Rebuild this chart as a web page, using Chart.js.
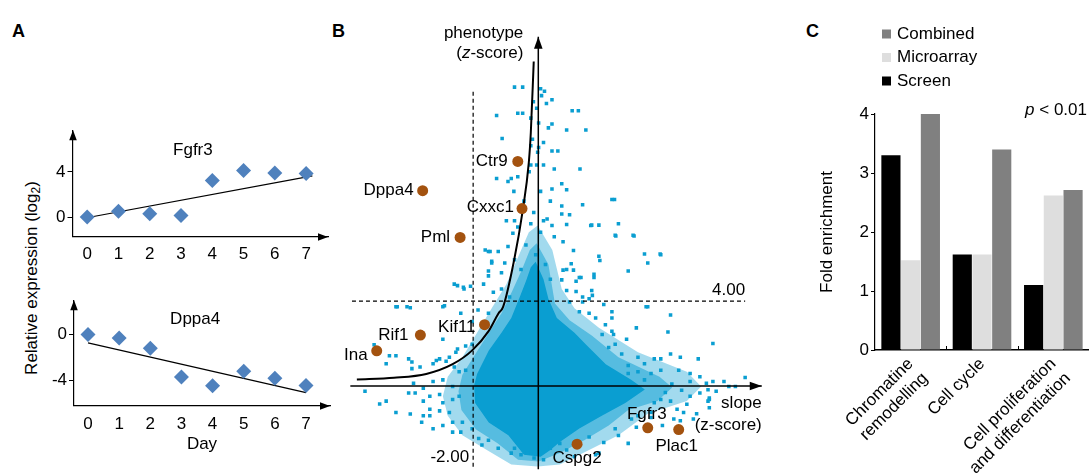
<!DOCTYPE html>
<html>
<head>
<meta charset="utf-8">
<script src="https://cdn.jsdelivr.net/npm/chart.js@4.4.1/dist/chart.umd.min.js"></script>
<style>
  body { margin: 0; width: 1089px; height: 475px; position: relative; background: #fff; overflow: hidden;
         font-family: 'Liberation Sans', Arial, sans-serif; color: #000; }
  canvas { position: absolute; }
  .letter { position: absolute; font-weight: bold; font-size: 18px; line-height: 18px; }
  #ytitleA { position: absolute; left: 32px; top: 278px; white-space: nowrap; font-size: 17px;
             transform: translate(-50%, -50%) rotate(-90deg); }
  #ytitleA sub { font-size: 12px; vertical-align: -3px; }
</style>
</head>
<body>
<div class="letter" style="left:12px;top:22px">A</div>
<div class="letter" style="left:332px;top:22px">B</div>
<div class="letter" style="left:806px;top:22px">C</div>
<div id="ytitleA">Relative expression (log<sub>2</sub>)</div>

<canvas id="cFgfr3" width="300" height="150" style="left:40px;top:118px"></canvas>
<canvas id="cDppa4" width="300" height="170" style="left:40px;top:288px"></canvas>
<canvas id="cScreen" width="445" height="460" style="left:335px;top:15px"></canvas>
<canvas id="cFold" width="294" height="460" style="left:795px;top:15px"></canvas>

<script>
// ---- A: expression time courses ----
const days = [0, 1, 2, 3, 4, 5, 6, 7];
const fgfr3Expr = [0.0, 0.52, 0.3, 0.15, 3.25, 4.12, 3.9, 3.86];
const dppa4Expr = [0.0, -0.29, -1.2, -3.7, -4.46, -3.2, -3.8, -4.43];
const fgfr3Fit = [[-0.1, -0.1], [7.2, 3.65]];
const dppa4Fit = [[0, -0.72], [7, -5.06]];
const fgfr3Ticks = [0, 4];
const dppa4Ticks = [0, -4];

// ---- B: screen, slope vs phenotype (z-scores) ----
const geneNames = ['Ctr9', 'Dppa4', 'Cxxc1', 'Pml', 'Kif11', 'Rif1', 'Ina', 'Fgfr3', 'Plac1', 'Cspg2'];
const geneSlope = [-0.63, -3.55, -0.50, -2.40, -1.65, -3.62, -4.96, 3.36, 4.31, 1.19];
const genePhenotype = [10.58, 9.2, 8.36, 7.0, 2.89, 2.40, 1.66, -1.97, -2.05, -2.74];
const thresholdSlope = -2.0;
const thresholdPhenotype = 4.0;
const slopeAxis = [-5.77, 6.86];
const phenotypeAxis = [-3.93, 16.45];
const dashedVRange = [-3.8, 14.0];
const dashedHRange = [-5.72, 6.35];
const thresholdCurve = [[-5.57, 0.31], [-4.43, 0.39], [-3.44, 0.57], [-2.63, 1.03], [-2.03, 1.68],
  [-1.52, 2.60], [-1.22, 3.43], [-1.08, 3.73], [-0.74, 5.95], [-0.48, 8.25], [-0.29, 10.55],
  [-0.23, 11.93], [-0.14, 15.29]];
// outline of the saturated bulk of clones
const denseCore = [[-0.08, 5.86], [0.16, 5.03], [0.31, 4.11], [0.57, 3.20], [1.11, 2.51], [1.47, 1.95],
  [2.07, 1.03], [2.85, 0.30], [3.27, -0.16], [2.67, -0.80], [1.95, -1.40], [1.26, -2.00], [0.66, -2.64],
  [0.37, -3.01], [0.07, -3.33], [-0.44, -3.24], [-0.92, -2.32], [-1.52, -1.72], [-1.94, -0.80],
  [-1.97, 0.02], [-1.88, 0.57], [-1.52, 1.68], [-1.13, 2.51], [-0.83, 3.20], [-0.59, 4.11],
  [-0.38, 4.94], [-0.23, 5.59]];
// outlines of the speckled zones around it (inner: thick, outer: thin)
const innerFringe = [[-0.05, 6.73], [0.31, 5.72], [0.51, 3.89], [0.96, 3.10], [1.65, 2.37], [2.46, 1.36],
  [3.72, 0.44], [4.11, -0.07], [3.66, -0.71], [2.76, -1.13], [2.16, -1.86], [1.41, -2.55], [0.66, -3.15],
  [0.01, -3.56], [-0.62, -3.47], [-1.25, -2.69], [-1.91, -2.05], [-2.36, -1.13], [-2.45, -0.25],
  [-2.33, 0.53], [-1.94, 1.49], [-1.52, 2.51], [-1.13, 3.43], [-0.80, 4.48], [-0.50, 5.49], [-0.26, 6.41]];
const outerFringe = [[-0.02, 7.56], [0.43, 6.41], [0.72, 4.57], [1.11, 3.66], [1.86, 2.74], [3.06, 1.59],
  [4.56, 0.67], [5.00, -0.02], [4.56, -0.71], [3.36, -1.31], [2.46, -2.32], [1.56, -3.01], [0.66, -3.70],
  [-0.02, -3.79], [-0.83, -3.70], [-1.58, -3.01], [-2.33, -2.32], [-2.78, -1.40], [-2.93, -0.48],
  [-2.78, 0.44], [-2.33, 1.36], [-1.88, 2.51], [-1.43, 3.66], [-0.98, 4.80], [-0.59, 6.18], [-0.29, 7.24]];
// individually visible clones
const screenClones = [
  [0.07, 14.0], [0.19, 13.89], [0.42, 13.49], [1.04, 12.97], [1.23, 12.97], [0.42, 12.34], [0.87, 12.06],
  [1.46, 12.06], [0.42, 11.07], [0.60, 11.07], [0.49, 10.22], [1.28, 10.22], [0.72, 9.53], [0.87, 9.25],
  [0.42, 9.28], [2.26, 8.79], [2.34, 8.79], [1.36, 8.54], [0.37, 8.71], [0.72, 8.48], [0.96, 8.07],
  [0.72, 8.10], [0.27, 7.87], [0.42, 7.56], [0.87, 7.61], [1.64, 7.58], [1.86, 7.58], [2.46, 7.64],
  [2.38, 7.07], [2.94, 7.07], [0.49, 7.03], [0.76, 6.80], [1.08, 6.38], [1.86, 6.11], [1.89, 5.91],
  [3.26, 6.22], [3.74, 6.22], [3.36, 5.80], [1.01, 5.76], [0.76, 5.46], [1.08, 5.46], [0.72, 5.00],
  [1.16, 4.94], [1.31, 5.11], [1.71, 5.11], [0.87, 4.50], [1.16, 4.45], [1.64, 4.50], [1.36, 4.19],
  [2.01, 3.84], [3.36, 3.73], [1.71, 5.26],
  [-0.73, 14.08], [-0.48, 14.08], [-0.15, 13.39], [-1.28, 12.74], [-0.63, 12.85], [-0.48, 12.85],
  [-0.23, 12.62], [0.01, 12.39], [-1.11, 11.66], [-0.18, 11.62], [-0.23, 11.32], [0.01, 11.24],
  [-0.83, 9.78], [-1.28, 9.78], [-0.93, 9.63], [-0.63, 9.86], [-0.75, 9.17], [-0.28, 10.09],
  [-0.23, 10.41], [-0.05, 10.41], [0.16, 10.41], [0.16, 7.79], [-0.14, 8.17], [-0.98, 7.79],
  [-0.78, 7.20], [-0.23, 7.64], [-0.73, 7.79], [-0.63, 7.49], [-0.93, 6.57], [-1.23, 6.34],
  [-1.53, 6.34], [-0.73, 5.95], [-1.03, 5.80], [-1.13, 5.34], [-1.53, 5.19], [-2.48, 4.73],
  [-2.28, 4.57], [-1.38, 4.42], [-0.88, 4.19], [-1.13, 4.57], [-4.33, 3.73], [-2.93, 3.73],
  [-1.63, 6.41], [-1.53, 5.42], [-2.08, 4.70], [-1.68, 4.80], [-1.43, 5.88],
  [-0.38, 6.64], [-0.08, 6.18], [-0.53, 5.49], [-0.29, 4.80], [0.22, 5.72], [0.37, 5.03], [0.07, 7.24],
  [-0.44, 8.71], [0.07, 9.17], [-0.02, 11.01], [0.16, 11.47], [0.31, 12.16], [-0.05, 13.08],
  [0.25, 13.31], [0.10, 13.68],
  [-4.37, 3.73], [-4.03, 3.73], [-2.88, 3.78], [-2.38, 3.43], [-1.85, 3.58], [-1.53, 3.43], [-2.03, 3.04],
  [-2.93, 2.20], [-2.23, 1.89], [-2.48, 1.74], [-2.03, 1.97], [-4.67, 1.05], [-4.37, 1.43], [-3.88, 1.13],
  [-3.88, 0.82], [-3.63, 0.90], [-3.03, 1.28], [-2.73, 1.36], [-3.23, 1.05], [-2.58, 0.90], [-2.43, 0.67],
  [-2.23, 0.74], [-3.83, 0.13], [-3.53, -0.10], [-3.23, 0.21], [-2.93, 0.29], [-2.63, -0.02],
  [-3.98, -0.33], [-3.78, -0.33], [-4.67, -0.71], [-3.53, -0.71], [-3.33, -0.48], [-3.03, -0.40],
  [-2.93, -0.79], [-2.63, -0.63], [-2.43, -0.48], [-4.37, -1.25], [-3.93, -1.32], [-3.53, -1.40],
  [-3.03, -1.17], [-3.33, -1.09], [-2.73, -1.25], [-3.23, -2.01], [-2.93, -1.86], [-2.63, -1.71],
  [-2.38, -2.17], [-2.33, -1.71], [-2.03, -2.01], [-1.83, -2.47], [-1.53, -2.55], [-1.23, -2.93],
  [-0.73, -2.93], [-0.53, -3.24], [-0.23, -3.09], [-0.13, -3.39], [-5.04, 1.94], [-3.93, 3.69],
  [-3.98, 1.28], [-4.57, 1.43], [-3.58, -1.71], [-5.32, -0.25], [-4.87, -0.85],
  [-1.48, 6.34], [-1.43, 5.80], [-2.30, 4.65], [-2.58, 4.80], [-2.53, 1.59], [-2.83, 1.17], [-3.13, 1.20],
  [-3.33, -1.40], [-2.63, -2.17], [-1.73, -2.78], [-0.83, -3.16], [-0.33, -3.16],
  [3.98, 2.55], [5.36, 2.00], [2.31, 2.43], [2.71, 2.20], [6.35, 0.40], [6.05, -0.02], [5.25, -0.63],
  [5.25, -1.02], [4.76, -1.55], [4.36, -1.63], [2.76, -2.70], [2.01, -2.66], [1.76, -3.24], [0.16, -3.47],
  [3.31, 3.73], [3.01, 2.74], [3.56, 1.28], [3.76, 1.28], [4.06, 1.51], [4.36, 1.36], [4.91, 1.28],
  [4.31, 0.74], [4.66, 0.59], [4.96, 0.44], [5.36, 0.21], [5.70, 0.21], [5.85, -0.02], [5.21, -0.17],
  [4.96, -0.33], [4.66, -0.48], [5.21, -0.71], [4.56, -0.86], [4.26, -1.09], [4.46, -1.25], [4.16, -1.55],
  [4.06, -0.71], [3.76, -0.63], [3.56, -0.79], [3.46, -1.48], [3.06, -1.40], [3.01, -1.94], [1.86, -3.16],
  [1.56, -2.40], [0.87, -3.01], [0.66, -2.70], [0.37, -2.93], [2.76, 0.59], [3.06, 0.67], [3.26, 0.29],
  [3.46, 0.59], [3.76, 0.74], [3.06, 1.36], [3.26, 1.05], [2.76, 0.97], [2.56, 1.51], [2.36, 1.97],
  [2.16, 1.82], [1.96, 2.43], [2.26, 2.58], [2.06, 2.89], [1.76, 3.20], [1.56, 3.43], [1.26, 3.50],
  [1.36, 3.96], [1.56, 4.11], [0.96, 3.96], [2.26, 3.20], [5.46, -0.25], [4.86, -1.31], [3.81, -1.86],
  [2.46, -2.33], [1.11, -3.33], [4.10, 0.10], [4.40, -0.20], [3.90, -0.30],
  [2.36, -2.01], [2.86, -1.55], [3.46, -1.25], [4.66, 0.21], [5.16, 0.13], [5.25, -0.56], [3.76, 6.18],
  [2.36, 7.10], [2.91, 7.10], [1.61, 7.56], [0.87, 5.49], [1.26, 5.11], [2.76, 5.42], [4.06, 3.35],
  [1.66, 4.27], [2.26, 3.50]
];

// ---- C: fold enrichment ----
const categories = [['Chromatine', 'remodelling'], ['Cell cycle'], ['Cell proliferation', 'and differentiation']];
const screenFold = [3.3, 1.62, 1.1];
const microarrayFold = [1.52, 1.62, 2.62];
const combinedFold = [4.0, 3.4, 2.71];

// label placement next to the highlighted genes: [align, dx, dy] in px
const geneLabelPlacement = {
  Ctr9: ['right', -10, 0], Dppa4: ['right', -9, 0], Cxxc1: ['right', -8, -1], Pml: ['right', -10, 0],
  Kif11: ['right', -9, 3], Rif1: ['right', -12, 0], Ina: ['right', -9, 5],
  Fgfr3: ['center', -1, -14], Plac1: ['center', -2, 17], Cspg2: ['center', 0, 14]
};

const FAMILY = "'Liberation Sans', Arial, sans-serif";
const FONT = '17px ' + FAMILY;
const BLUE = '#0a9ed1';

Chart.defaults.font.family = FAMILY;
Chart.defaults.font.size = 17;
Chart.defaults.color = '#000';
Chart.defaults.animation = false;
Chart.defaults.plugins.legend.display = false;
Chart.defaults.plugins.tooltip.enabled = false;

const pairs = list => list.map(([x, y]) => ({ x, y }));

function arrowHead(ctx, x, y, angle, len, half) {
  ctx.save();
  ctx.translate(x, y);
  ctx.rotate(angle);
  ctx.beginPath();
  ctx.moveTo(0, 0);
  ctx.lineTo(-len, -half);
  ctx.lineTo(-len, half);
  ctx.closePath();
  ctx.fillStyle = '#000';
  ctx.fill();
  ctx.restore();
}

// text made of plain/italic pieces
function drawRich(ctx, parts, x, y, align) {
  const fonts = parts.map(p => (p[1] ? 'italic ' : '') + FONT);
  const widths = parts.map((p, i) => { ctx.font = fonts[i]; return ctx.measureText(p[0]).width; });
  const total = widths.reduce((a, b) => a + b, 0);
  let cx = align === 'right' ? x - total : align === 'center' ? x - total / 2 : x;
  ctx.textAlign = 'left';
  ctx.textBaseline = 'middle';
  parts.forEach((p, i) => { ctx.font = fonts[i]; ctx.fillText(p[0], cx, y); cx += widths[i]; });
}

const axisArrows = {
  id: 'axisArrows',
  afterDraw(chart) {
    const { ctx, chartArea: a } = chart;
    arrowHead(ctx, Math.round(a.left), a.top, -Math.PI / 2, 10, 3.8);
    arrowHead(ctx, a.right, Math.round(a.bottom), 0, 10, 3.8);
  }
};

const geneTitle = {
  id: 'geneTitle',
  afterDraw(chart, args, opts) {
    const { ctx, scales: { x, y } } = chart;
    ctx.save();
    ctx.font = FONT;
    ctx.fillStyle = '#000';
    ctx.textAlign = 'center';
    ctx.textBaseline = 'middle';
    ctx.fillText(opts.text, x.getPixelForValue(opts.at[0]), y.getPixelForValue(opts.at[1]));
    ctx.restore();
  }
};

function expressionChart(id, values, fit, yTicks, yRange, xRange, title, box, showDay) {
  return new Chart(document.getElementById(id), {
    type: 'scatter',
    data: {
      datasets: [
        { data: days.map((d, i) => ({ x: d, y: values[i] })), pointStyle: 'rectRot', pointRadius: 7.5,
          backgroundColor: '#4f81bd', borderWidth: 0, order: 1 },
        { data: pairs(fit), showLine: true, pointRadius: 0, borderColor: '#000', borderWidth: 1.2, order: 2 }
      ]
    },
    options: {
      responsive: false,
      layout: { padding: box.padding },
      scales: {
        x: {
          type: 'linear', min: xRange[0], max: xRange[1],
          afterBuildTicks: s => { s.ticks = days.map(v => ({ value: v })); },
          grid: { display: false, drawTicks: false },
          border: { color: '#000', width: 1.2 },
          ticks: { padding: 8 },
          title: { display: showDay, text: 'Day', padding: { top: 0, bottom: 3 } },
          afterFit: s => { s.height = box.xh; }
        },
        y: {
          min: yRange[0], max: yRange[1],
          afterBuildTicks: s => { s.ticks = yTicks.map(v => ({ value: v })); },
          grid: { drawOnChartArea: false, tickLength: 5, color: '#000' },
          border: { color: '#000', width: 1.2 },
          ticks: { padding: 2 },
          afterFit: s => { s.width = box.yw; }
        }
      },
      plugins: { geneTitle: title }
    },
    plugins: [axisArrows, geneTitle]
  });
}

expressionChart('cFgfr3', fgfr3Expr, fgfr3Fit, fgfr3Ticks, [-1.72, 7.7], [-0.47, 7.7],
  { text: 'Fgfr3', at: [3.38, 5.96] }, { padding: { top: 10, right: 12, left: 0, bottom: 0 }, xh: 31.5, yw: 32.5 }, false);
expressionChart('cDppa4', dppa4Expr, dppa4Fit, dppa4Ticks, [-6.2, 3.0], [-0.45, 7.77],
  { text: 'Dppa4', at: [3.44, 1.31] }, { padding: { top: 10.3, right: 10, left: 0, bottom: 0 }, xh: 52.3, yw: 34 }, true);

// ---- B ----
const screenDecor = {
  id: 'screenDecor',
  afterDatasetsDraw(chart, args, opts) {
    const { ctx, scales: { x, y } } = chart;
    ctx.save();
    chart.data.datasets.forEach((ds, i) => {
      if (!ds.arrowHead) return;
      const pts = chart.getDatasetMeta(i).data;
      const a = pts[pts.length - 2], b = pts[pts.length - 1];
      arrowHead(ctx, b.x, b.y, Math.atan2(b.y - a.y, b.x - a.x), 12, 4.3);
    });
    const dots = chart.getDatasetMeta(opts.geneIndex).data;
    ctx.fillStyle = '#000';
    ctx.font = FONT;
    ctx.textBaseline = 'middle';
    geneNames.forEach((name, i) => {
      const [align, dx, dy] = geneLabelPlacement[name];
      ctx.textAlign = align;
      ctx.fillText(name, dots[i].x + dx, dots[i].y + dy);
    });
    const x0 = x.getPixelForValue(0), y0 = y.getPixelForValue(0);
    ctx.textAlign = 'right';
    ctx.fillText(thresholdPhenotype.toFixed(2), x.getPixelForValue(dashedHRange[1]), y.getPixelForValue(thresholdPhenotype) - 10.5);
    ctx.fillText(thresholdSlope.toFixed(2), x.getPixelForValue(thresholdSlope) - 4, y0 + 71.5);
    drawRich(ctx, [['phenotype', false]], x0 - 15, 18, 'right');
    drawRich(ctx, [['(', false], ['z', true], ['-score)', false]], x0 - 15, 38, 'right');
    const xt = x.getPixelForValue(slopeAxis[1]);
    drawRich(ctx, [['slope', false]], xt, y0 + 17.5, 'right');
    drawRich(ctx, [['(z-score)', false]], xt, y0 + 39.5, 'right');
    ctx.restore();
  }
};

const line = (data, width, extra) => Object.assign({ data, showLine: true, pointRadius: 0, borderColor: '#000', borderWidth: width }, extra);
const zone = (outline, color, order) => ({ data: pairs(outline), showLine: true, fill: 'shape', backgroundColor: color,
  borderWidth: 0, borderColor: 'transparent', pointRadius: 0, order });

new Chart(document.getElementById('cScreen'), {
  type: 'scatter',
  data: {
    datasets: [
      zone(outerFringe, 'rgba(10,158,209,0.38)', 11),
      zone(innerFringe, 'rgba(10,158,209,0.5)', 10),
      zone(denseCore, BLUE, 9),
      { data: pairs(screenClones), pointStyle: 'rect', pointRadius: 2.5, backgroundColor: BLUE, borderWidth: 0, order: 7 },
      line([{ x: thresholdSlope, y: dashedVRange[0] }, { x: thresholdSlope, y: dashedVRange[1] }], 1.2, { borderDash: [4, 3], order: 5 }),
      line([{ x: dashedHRange[0], y: thresholdPhenotype }, { x: dashedHRange[1], y: thresholdPhenotype }], 1.2, { borderDash: [4, 3], order: 5 }),
      line([{ x: slopeAxis[0], y: 0 }, { x: slopeAxis[1], y: 0 }], 1.5, { arrowHead: true, order: 4 }),
      line([{ x: 0, y: phenotypeAxis[0] }, { x: 0, y: phenotypeAxis[1] }], 1.5, { arrowHead: true, order: 4 }),
      line(pairs(thresholdCurve), 2, { cubicInterpolationMode: 'monotone', order: 3 }),
      { data: geneSlope.map((x, i) => ({ x, y: genePhenotype[i] })), pointRadius: 5.5,
        backgroundColor: '#a3520f', borderWidth: 0, order: 1 }
    ]
  },
  options: {
    responsive: false,
    layout: { padding: 0 },
    scales: {
      x: { type: 'linear', display: false, min: -6.072, max: 7.251 },
      y: { type: 'linear', display: false, min: -3.931, max: 17.218 }
    },
    plugins: { screenDecor: { geneIndex: 9 } }
  },
  plugins: [screenDecor]
});

// ---- C ----
const enrichmentDecor = {
  id: 'enrichmentDecor',
  afterDraw(chart) {
    const { ctx, chartArea: a, scales: { x } } = chart;
    ctx.save();
    ctx.font = FONT;
    ctx.textBaseline = 'middle';
    ctx.textAlign = 'left';
    chart.data.datasets.slice().reverse().forEach((d, i) => {
      const yy = 19 + i * 23.5;
      ctx.fillStyle = d.backgroundColor;
      ctx.fillRect(a.left + 7, yy - 4.5, 9, 9);
      ctx.fillStyle = '#000';
      ctx.fillText(d.label, a.left + 22, yy);
    });
    drawRich(ctx, [['p', true], [' < 0.01', false]], a.right - 2, a.top - 4, 'right');
    ctx.strokeStyle = '#000';
    ctx.lineWidth = 1;
    for (let i = 0; i < chart.data.labels.length - 1; i++) {
      const px = Math.round((x.getPixelForValue(i) + x.getPixelForValue(i + 1)) / 2) + 0.5;
      ctx.beginPath();
      ctx.moveTo(px, a.bottom);
      ctx.lineTo(px, a.bottom - 4);
      ctx.stroke();
    }
    ctx.restore();
  }
};

new Chart(document.getElementById('cFold'), {
  type: 'bar',
  data: {
    labels: categories,
    datasets: [
      { label: 'Screen', data: screenFold, backgroundColor: '#000000' },
      { label: 'Microarray', data: microarrayFold, backgroundColor: '#dedede' },
      { label: 'Combined', data: combinedFold, backgroundColor: '#808080' }
    ]
  },
  options: {
    responsive: false,
    layout: { padding: { top: 99, left: 0, right: 0, bottom: 0 } },
    datasets: { bar: { categoryPercentage: 0.83, barPercentage: 0.97 } },
    scales: {
      x: {
        grid: { display: false, drawTicks: false },
        border: { color: '#000', width: 1.5 },
        ticks: { autoSkip: false, minRotation: 45, maxRotation: 45, padding: 4 },
        afterFit: s => { s.height = 125; }
      },
      y: {
        min: 0, max: 4,
        grid: { drawOnChartArea: false, tickLength: 4, color: '#000' },
        border: { color: '#000', width: 1.2 },
        ticks: { stepSize: 1, padding: 2 },
        title: { display: true, text: 'Fold enrichment', padding: { top: 22, bottom: 0 } },
        afterFit: s => { s.width = 80; }
      }
    }
  },
  plugins: [enrichmentDecor]
});
</script>
</body>
</html>
